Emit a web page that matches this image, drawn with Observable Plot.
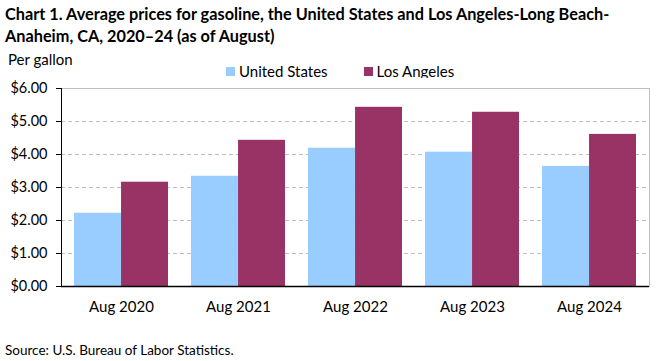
<!DOCTYPE html>
<html>
<head>
<meta charset="utf-8">
<script src="https://cdn.jsdelivr.net/npm/d3@7"></script>
<script src="https://cdn.jsdelivr.net/npm/@observablehq/plot@0.6"></script>
<style>
  html, body { margin: 0; padding: 0; background: #fff; }
  body { width: 661px; height: 361px; position: relative; overflow: hidden; font-family: Lato, "Open Sans", sans-serif; color: #000; }
  #title { position: absolute; left: 5px; top: 3px; font-weight: bold; font-size: 16.3px; line-height: 22px; white-space: nowrap; }
  #unit { position: absolute; left: 8px; top: 50px; font-size: 15px; }
  #legend { position: absolute; top: 62px; left: 226px; font-size: 15px; display: flex; align-items: center; }
  #legend .sw { display: inline-block; width: 9px; height: 9px; margin-right: 4px; }
  #legend .item { display: flex; align-items: center; margin-right: 36px; }
  #chart { position: absolute; left: 0; top: 78px; }
  #source { position: absolute; left: 5px; top: 342px; font-size: 13.5px; }
</style>
</head>
<body>
<div id="title">Chart 1. Average prices for gasoline, the United States and Los Angeles-Long Beach-<br>Anaheim, CA, 2020–24 (as of August)</div>
<div id="unit">Per gallon</div>
<div id="legend"></div>
<div id="chart"></div>
<div id="source">Source: U.S. Bureau of Labor Statistics.</div>
<script>
const years = ["Aug 2020", "Aug 2021", "Aug 2022", "Aug 2023", "Aug 2024"];
const seriesNames = ["United States", "Los Angeles"];
const usPrices = [2.22, 3.34, 4.19, 4.07, 3.64];
const laPrices = [3.16, 4.43, 5.43, 5.28, 4.61];
const yTicks = [0, 1, 2, 3, 4, 5, 6];
const colors = ["#99ccff", "#993366"];

const us = years.map((y, i) => ({year: y, value: usPrices[i]}));
const la = years.map((y, i) => ({year: y, value: laPrices[i]}));

const width = 661, height = 250;
const mL = 61, mR = 12, mT = 10, mB = 42;
const bandwidth = (width - mL - mR) / years.length * 0.8;
const half = bandwidth / 2;

const legend = document.getElementById("legend");
seriesNames.forEach((n, i) => {
  const it = document.createElement("span");
  it.className = "item";
  it.innerHTML = `<span class="sw" style="background:${colors[i]}"></span>${n}`;
  legend.appendChild(it);
});

const chart = Plot.plot({
  width, height,
  marginLeft: mL, marginRight: mR, marginTop: mT, marginBottom: mB,
  style: {fontFamily: "Lato, sans-serif", fontSize: "15px", color: "#000", background: "#fff"},
  x: {domain: years, paddingInner: 0.2, paddingOuter: 0.1, label: null},
  y: {domain: [0, 6], label: null},
  marks: [
    Plot.ruleY(yTicks.filter(d => d > 0 && d < 6), {stroke: "#c0c0c0", strokeDasharray: "4,3"}),
    Plot.ruleY([6], {stroke: "#bfbfbf"}),
    Plot.frame({anchor: "right", stroke: "#bfbfbf"}),
    Plot.barY(us, {x: "year", y: "value", fill: colors[0], insetRight: half}),
    Plot.barY(la, {x: "year", y: "value", fill: colors[1], insetLeft: half}),
    Plot.axisY({ticks: yTicks, tickFormat: d3.format("$.2f"), tickSize: 5, tickPadding: 9, fontSize: 14.5}),
    Plot.axisX({tickSize: 0, tickPadding: 15, fontSize: 15}),
    Plot.ruleY([0], {stroke: "#000", strokeWidth: 1.5}),
    Plot.frame({anchor: "left", stroke: "#000"})
  ]
});
document.getElementById("chart").appendChild(chart);
</script>
</body>
</html>
